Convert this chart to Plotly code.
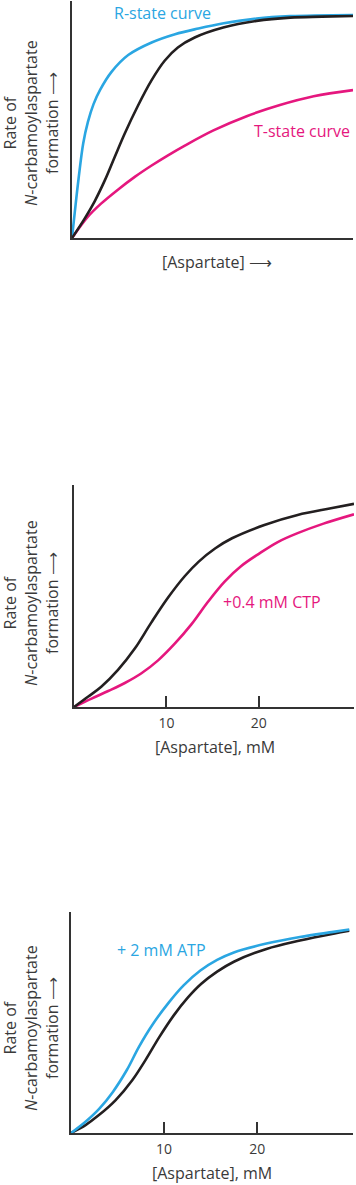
import plotly.graph_objects as go

W, H = 356, 1185

# ---- Panel 1 data (arbitrary units, x 0-30, y 0-1) ----
p1_x_r = [0, 0.3, 0.7, 1.2, 1.7, 2.3, 3.0, 4.2, 6.0, 8.5, 11.0, 13.5, 16.2, 19.7, 23.3, 30]
p1_y_r = [0, 0.11, 0.25, 0.40, 0.49, 0.565, 0.625, 0.70, 0.772, 0.825, 0.86, 0.884, 0.906, 0.926, 0.936, 0.941]
p1_x_k = [0, 1.35, 2.42, 3.49, 4.56, 5.62, 7.0, 8.47, 9.89, 11.3, 13.1, 16.15, 19.7, 23.3, 26.7, 30]
p1_y_k = [0, 0.082, 0.155, 0.242, 0.342, 0.44, 0.555, 0.664, 0.748, 0.804, 0.846, 0.888, 0.916, 0.93, 0.934, 0.937]
p1_x_t = [0, 1.7, 3.1, 4.9, 6.7, 8.5, 10.25, 12.0, 15.1, 18.65, 22.2, 25.8, 30]
p1_y_t = [0, 0.09, 0.145, 0.204, 0.258, 0.306, 0.349, 0.389, 0.454, 0.514, 0.561, 0.598, 0.624]

# ---- Panel 2 data ([Aspartate] mM) ----
p2_x_k = [0, 1.51, 2.95, 4.76, 6.56, 8.36, 10.2, 12.0, 13.5, 15.3, 17.1, 20.6, 24.2, 27.8, 30.3]
p2_y_k = [0, 0.046, 0.091, 0.167, 0.262, 0.38, 0.494, 0.59, 0.655, 0.715, 0.76, 0.82, 0.865, 0.895, 0.915]
p2_x_c = [0, 1.9, 3.7, 5.5, 7.3, 9.1, 10.9, 12.7, 14.5, 16.3, 18.1, 20.0, 22.0, 24.2, 27.0, 30.3]
p2_y_c = [0, 0.038, 0.072, 0.108, 0.152, 0.21, 0.285, 0.372, 0.474, 0.565, 0.635, 0.69, 0.742, 0.783, 0.826, 0.868]

# ---- Panel 3 data ----
p3_x_k = [0, 1.56, 3.0, 4.8, 6.6, 8.0, 9.5, 11.0, 12.5, 14.0, 15.7, 17.5, 21.0, 24.6, 28.2, 29.9]
p3_y_k = [0, 0.036, 0.081, 0.149, 0.240, 0.330, 0.435, 0.53, 0.61, 0.675, 0.73, 0.775, 0.833, 0.871, 0.902, 0.915]
p3_x_a = [0, 1.56, 3.0, 4.5, 6.0, 7.3, 8.75, 10.5, 12.1, 13.9, 15.7, 17.5, 21.0, 24.6, 28.2, 29.9]
p3_y_a = [0, 0.051, 0.108, 0.186, 0.285, 0.39, 0.49, 0.59, 0.668, 0.735, 0.783, 0.817, 0.857, 0.887, 0.910, 0.921]

tick_vals = [10, 20]
tick_text = ["10", "20"]

BLUE = "#2AA6E2"
PINK = "#E5177E"
BLACK = "#231F20"
TEXT = "#3a3a3a"
FONT = "Open Sans"

def px(x):
    return x / W

def py(y):
    return 1 - y / H

fig = go.Figure()

def line(x, y, color, xa, ya):
    fig.add_trace(go.Scatter(x=x, y=y, mode="lines", xaxis=xa, yaxis=ya,
                             line=dict(color=color, width=2.6, shape="spline", smoothing=1.0),
                             hoverinfo="skip", showlegend=False))

line(p1_x_t, p1_y_t, PINK, "x", "y")
line(p1_x_r, p1_y_r, BLUE, "x", "y")
line(p1_x_k, p1_y_k, BLACK, "x", "y")
line(p2_x_c, p2_y_c, PINK, "x2", "y2")
line(p2_x_k, p2_y_k, BLACK, "x2", "y2")
line(p3_x_k, p3_y_k, BLACK, "x3", "y3")
line(p3_x_a, p3_y_a, BLUE, "x3", "y3")

axis_common = dict(showgrid=False, zeroline=False, showline=True, linecolor="#333333",
                   linewidth=1.5, mirror=False, fixedrange=True)

panels = [
    # (xleft, xright, ytop, ybottom, xmax, ticks)
    (72, 353, 1, 238, 30.0, False),
    (74, 354, 485, 707, 30.3, True),
    (71, 353, 912, 1133, 30.3, True),
]

layout = dict(width=W, height=H, margin=dict(l=0, r=0, t=0, b=0),
              paper_bgcolor="white", plot_bgcolor="white", showlegend=False,
              font=dict(family=FONT, color=TEXT, size=14))

for i, (xl, xr, yt, yb, xmax, ticks) in enumerate(panels):
    sfx = "" if i == 0 else str(i + 1)
    xa = dict(axis_common, domain=[px(xl), px(xr)], range=[0, xmax],
              anchor="y" + sfx)
    ya = dict(axis_common, domain=[py(yb), py(yt)], range=[0, 1],
              anchor="x" + sfx, showticklabels=False, ticks="")
    if ticks:
        xa.update(tickvals=tick_vals, ticktext=tick_text, ticks="inside", ticklen=11,
                  tickwidth=1.5, tickcolor="#333333", showticklabels=True,
                  tickfont=dict(family=FONT, size=14, color=TEXT), ticklabelstandoff=2)
    else:
        xa.update(showticklabels=False, ticks="")
    layout["xaxis" + sfx] = xa
    layout["yaxis" + sfx] = ya

fig.update_layout(**layout)

ann = []

def text(x, y, s, color=TEXT, size=16, angle=0):
    ann.append(dict(x=px(x), y=py(y), xref="paper", yref="paper", text=s, showarrow=False,
                    xanchor="center", yanchor="middle", textangle=angle,
                    font=dict(family=FONT, size=size, color=color)))

ylab = "Rate of<br><i>N</i>-carbamoylaspartate<br>formation ⟶"
text(31, 123, ylab, angle=-90)
text(31, 603, ylab, angle=-90)
text(31, 1028, ylab, angle=-90)

text(217, 262, "[Aspartate] ⟶")
text(215, 747, "[Aspartate], mM")
text(212, 1173, "[Aspartate], mM")

text(162, 13, "R-state curve", color=BLUE)
text(302, 131, "T-state curve", color=PINK)
text(272, 602, "+0.4 mM CTP", color=PINK)
text(161, 950, "+ 2 mM ATP", color=BLUE)

fig.update_layout(annotations=ann)
fig.write_html("out.html", config={"displayModeBar": False},
               post_script="document.body.style.margin='0';document.body.style.overflow='hidden';")
